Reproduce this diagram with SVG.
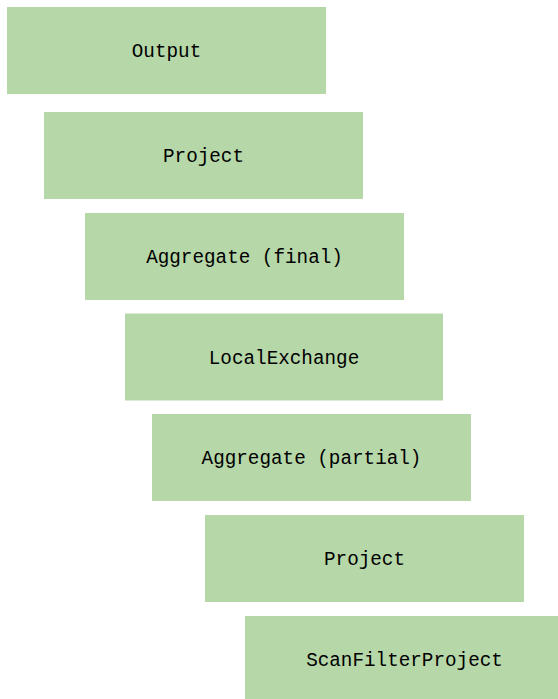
<svg xmlns="http://www.w3.org/2000/svg" width="558" height="699" viewBox="0 0 558 699">
<style>
.n rect{fill:#b6d7a8;stroke:none}
.n text{font-family:"Liberation Mono","DejaVu Sans Mono",monospace;font-size:19.3px;fill:#000;text-anchor:middle}
</style>
<rect width="558" height="699" fill="#fff"/>
<g id="connectors"/>
<g id="output" class="n"><rect x="7" y="7" width="319" height="87"/><text x="166.5" y="57">Output</text></g>
<g id="project1" class="n"><rect x="44" y="112" width="319" height="87"/><text x="203.5" y="162">Project</text></g>
<g id="aggregate-final" class="n"><rect x="85" y="213" width="319" height="87"/><text x="244.5" y="263">Aggregate (final)</text></g>
<g id="local-exchange" class="n"><rect x="125" y="313.5" width="318" height="87"/><text x="284" y="363.5">LocalExchange</text></g>
<g id="aggregate-partial" class="n"><rect x="152" y="414" width="319" height="87"/><text x="311.5" y="464">Aggregate (partial)</text></g>
<g id="project2" class="n"><rect x="205" y="515" width="319" height="87"/><text x="364.5" y="565">Project</text></g>
<g id="scan-filter-project" class="n"><rect x="245" y="616" width="319" height="87"/><text x="404.5" y="666">ScanFilterProject</text></g>
</svg>
